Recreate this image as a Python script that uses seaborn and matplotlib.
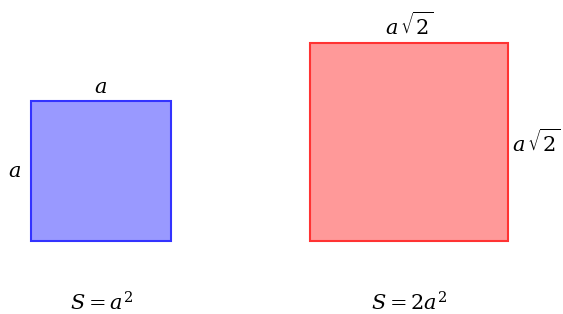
import matplotlib
matplotlib.use("Agg")
import matplotlib.pyplot as plt
import seaborn as sns

# side lengths of the two squares (in units of a)
sides = [1.0, 1.414]
side_labels = [r"$a$", r"$a\,\sqrt{2}$"]
area_labels = [r"$S=a^2$", r"$S=2a^2$"]
fills = ["#9999ff", "#ff9999"]
edges = ["#3333ff", "#ff3333"]

sns.set_theme(style="white")
plt.rcParams["mathtext.fontset"] = "dejavuserif"
plt.rcParams["text.color"] = "black"

px = 140.0  # pixels per unit a
fig = plt.figure(figsize=(5.63, 3.14), dpi=100)
ax = fig.add_axes([0, 0, 1, 1])
ax.set_xlim(0, 563 / px)
ax.set_ylim(0, 314 / px)
ax.axis("off")

lefts = [31 / px, 310 / px]
base = 73 / px

ax.bar(lefts, sides, width=sides, bottom=base, align="edge",
       color=fills, edgecolor=edges, linewidth=1.5)

fs = 15
for i, (x0, s) in enumerate(zip(lefts, sides)):
    cx = x0 + s / 2
    ax.text(cx, base + s + 0.03, side_labels[i], ha="center", va="bottom", fontsize=fs)
    ax.text(cx, 11 / px, area_labels[i], ha="center", va="center", fontsize=fs)

# second side labels
ax.text(lefts[0] - 0.07, base + sides[0] / 2, side_labels[0], ha="right", va="center", fontsize=fs)
ax.text(lefts[1] + sides[1] + 0.03, base + sides[1] * 0.5, side_labels[1], ha="left", va="center", fontsize=fs)

fig.savefig("out.png", dpi=100)
